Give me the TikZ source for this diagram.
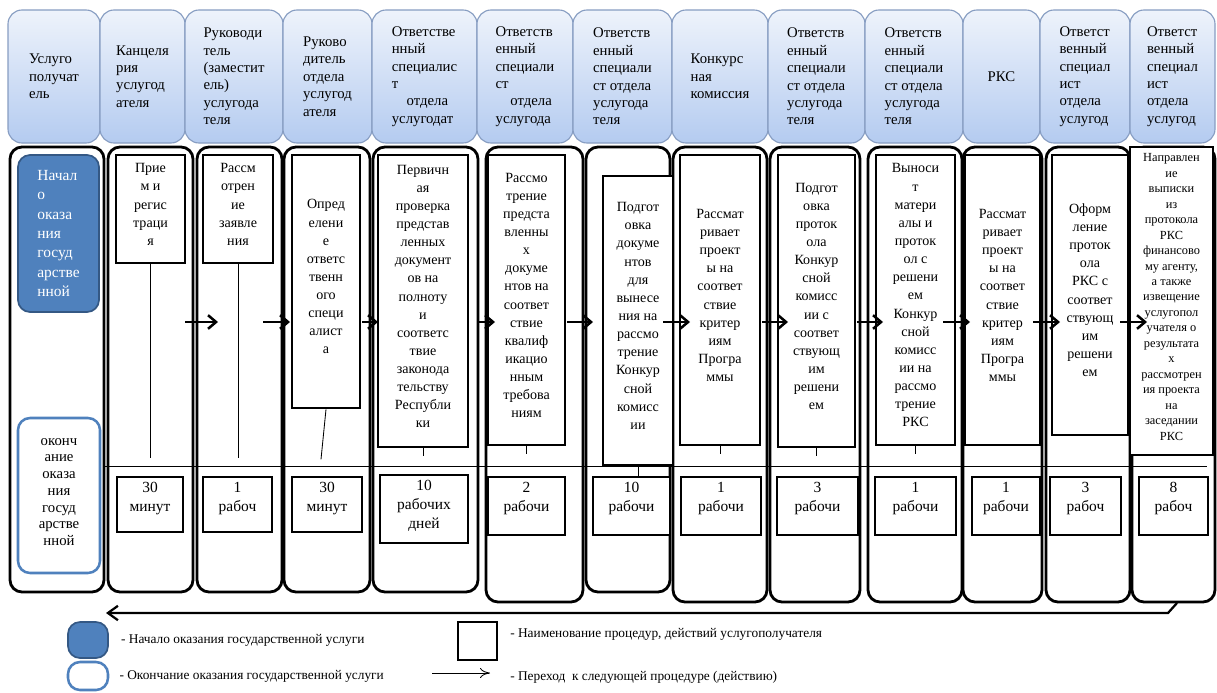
\documentclass[tikz,border=0pt]{standalone}
\usepackage{fontspec}
\setmainfont{Liberation Serif}
\definecolor{headtop}{RGB}{238,243,251}
\definecolor{headbot}{RGB}{180,203,240}
\definecolor{headline}{RGB}{135,157,194}
\definecolor{startblue}{RGB}{79,129,189}
\definecolor{startline}{RGB}{52,88,132}
\usetikzlibrary{arrows.meta,positioning,fit}

\begin{document}
\begin{tikzpicture}[x=0.025cm, y=-0.025cm,
    head/.style={rectangle, rounded corners=0.35cm, draw=headline, line width=0.8pt, top color=headtop, bottom color=headbot, inner sep=0pt},
    headtext/.style={align=left, inner sep=0pt, font=\fontsize{10.5}{12.4}\selectfont},
    lane/.style={rectangle, rounded corners=0.3cm, draw, line width=2pt, inner sep=0pt},
    proc/.style={rectangle, draw, line width=2pt, fill=white, inner sep=0pt, align=center, font=\fontsize{10}{12.9}\selectfont},
    tbox/.style={rectangle, draw, line width=2pt, fill=white, inner sep=0pt},
    tlabel/.style={align=center, inner sep=0pt, font=\fontsize{11}{13.5}\selectfont},
    startbox/.style={rectangle, rounded corners=0.3cm, draw=startline, line width=1.2pt, fill=startblue, inner sep=0pt},
    starttext/.style={align=left, inner sep=0pt, text=white, font=\fontsize{11}{13.8}\selectfont},
    endbox/.style={rectangle, rounded corners=0.3cm, draw=startblue, line width=1.8pt, fill=white, inner sep=0pt, align=center, font=\fontsize{10.5}{11.9}\selectfont},
    flow/.style={-{Straight Barb[length=2mm,width=3.4mm]}, line width=1.8pt},
    back/.style={-{Straight Barb[length=2.5mm,width=3.6mm]}, line width=1.6pt},
    stem/.style={line width=0.6pt},
    legtext/.style={anchor=west, inner sep=0pt, font=\fontsize{9.5}{11}\selectfont}
]
\useasboundingbox (0,0) rectangle (1217,692);

\node[head, fit={(8,10) (100,143)}] (h1) {};
\node[head, fit={(100,10) (185,143)}] (h2) {};
\node[head, fit={(185,10) (283,143)}] (h3) {};
\node[head, fit={(283,10) (372,143)}] (h4) {};
\node[head, fit={(372,10) (477,143)}] (h5) {};
\node[head, fit={(477,10) (573,143)}] (h6) {};
\node[head, fit={(573,10) (672,143)}] (h7) {};
\node[head, fit={(672,10) (768,143)}] (h8) {};
\node[head, fit={(768,10) (865,143)}] (h9) {};
\node[head, fit={(865,10) (963,143)}] (h10) {};
\node[head, fit={(963,10) (1040,143)}] (h11) {};
\node[head, fit={(1040,10) (1130,143)}] (h12) {};
\node[head, fit={(1130,10) (1215,143)}] (h13) {};

\node[headtext] (ht1) at (h1) {Услуго\\получат\\ель};
\node[headtext] (ht2) at (h2) {Канцеля\\рия\\услугод\\ателя};
\node[headtext] (ht3) at (h3) {Руководи\\тель\\(заместит\\ель)\\услугода\\теля};
\node[headtext] (ht4) at (h4) {Руково\\дитель\\отдела\\услугод\\ателя};
\node[headtext] (ht5) at (h5) {Ответстве\\нный\\специалис\\т\\\hspace*{1em}отдела\\услугодат};
\node[headtext] (ht6) at (h6) {Ответств\\енный\\специали\\ст\\\hspace*{1em}отдела\\услугода};
\node[headtext] (ht7) at (h7) {Ответств\\енный\\специали\\ст отдела\\услугода\\теля};
\node[headtext] (ht8) at (h8) {Конкурс\\ная\\комиссия};
\node[headtext] (ht9) at (h9) {Ответств\\енный\\специали\\ст отдела\\услугода\\теля};
\node[headtext] (ht10) at (h10) {Ответств\\енный\\специали\\ст отдела\\услугода\\теля};
\node[headtext] (ht11) at (h11) {РКС};
\node[headtext] (ht12) at (h12) {Ответст\\венный\\специал\\ист\\отдела\\услугод};
\node[headtext] (ht13) at (h13) {Ответст\\венный\\специал\\ист\\отдела\\услугод};

\node[lane, fit={(10,147) (104,592)}] (l1) {};
\node[lane, fit={(108,147) (193,592)}] (l2) {};
\node[lane, fit={(197,147) (282,592)}] (l3) {};
\node[lane, fit={(284,147) (370,592)}] (l4) {};
\node[lane, fit={(373,147) (478,592)}] (l5) {};
\node[lane, fit={(486,147) (583,602)}] (l6) {};
\node[lane, fit={(586,147) (670,592)}] (l7) {};
\node[lane, fit={(673,147) (767,602)}] (l8) {};
\node[lane, fit={(770,147) (860,602)}] (l9) {};
\node[lane, fit={(868,147) (962,602)}] (l10) {};
\node[lane, fit={(963,147) (1042,602)}] (l11) {};
\node[lane, fit={(1046,147) (1130,602)}] (l12) {};
\node[lane, fit={(1132,147) (1215,602)}] (l13) {};

\coordinate (sepL) at (104,466);
\coordinate (sepR) at (1207,466);
\draw[stem] (sepL) -- (sepR);

\node[startbox, fit={(18,155) (99,312)}] (s) {};
\node[starttext] (st) at (s) {Начал\\о\\оказа\\ния\\госуд\\арстве\\нной};
\node[endbox, fit={(18,418) (100,573)}] (e) {оконч\\ание\\оказа\\ния\\госуд\\арстве\\нной};

\node[proc, fit={(116,155) (185,263)}] (p2) {Прие\\м и\\регис\\траци\\я};
\node[proc, fit={(203,155) (273,263)}] (p3) {Рассм\\отрен\\ие\\заявле\\ния};
\node[proc, fit={(292,155) (360,408)}] (p4) {Опред\\елени\\е\\ответс\\твенн\\ого\\специ\\алист\\а};
\node[proc, fit={(378,155) (468,447)}] (p5) {Первичн\\ая\\проверка\\представ\\ленных\\документ\\ов на\\полноту\\и\\соответс\\твие\\законода\\тельству\\Республи\\ки};
\node[proc, fit={(488,155) (565,445)}] (p6) {Рассмо\\трение\\предста\\вленны\\х\\докуме\\нтов на\\соответ\\ствие\\квалиф\\икацио\\нным\\требова\\ниям};
\node[proc, fit={(603,176) (673,465)}] (p7) {Подгот\\овка\\докуме\\нтов\\для\\вынесе\\ния на\\рассмо\\трение\\Конкур\\сной\\комисс\\ии};
\node[proc, fit={(680,155) (760,445)}] (p8) {Рассмат\\ривает\\проект\\ы на\\соответ\\ствие\\критер\\иям\\Програ\\ммы};
\node[proc, fit={(778,155) (855,447)}] (p9) {Подгот\\овка\\проток\\ола\\Конкур\\сной\\комисс\\ии с\\соответ\\ствующ\\им\\решени\\ем};
\node[proc, fit={(876,155) (955,445)}] (p10) {Выноси\\т\\матери\\алы и\\проток\\ол с\\решени\\ем\\Конкур\\сной\\комисс\\ии на\\рассмо\\трение\\РКС};
\node[proc, fit={(965,155) (1040,445)}] (p11) {Рассмат\\ривает\\проект\\ы на\\соответ\\ствие\\критер\\иям\\Програ\\ммы};
\node[proc, fit={(1052,155) (1128,435)}] (p12) {Оформ\\ление\\проток\\ола\\РКС с\\соответ\\ствующ\\им\\решени\\ем};
\node[proc, font=\fontsize{8.8}{11}\selectfont, fit={(1130,147) (1213,455)}] (p13) {Направлен\\ие\\выписки\\из\\протокола\\РКС\\финансово\\му агенту,\\а также\\извещение\\услугопол\\учателя о\\результата\\х\\рассмотрен\\ия проекта\\на\\заседании\\РКС};

\node[tbox, fit={(117,477) (183,532)}] (t2) {};
\node[tbox, fit={(203,477) (272,532)}] (t3) {};
\node[tbox, fit={(292,477) (362,532)}] (t4) {};
\node[tbox, fit={(380,475) (468,543)}] (t5) {};
\node[tbox, fit={(488,477) (565,535)}] (t6) {};
\node[tbox, fit={(593,477) (670,535)}] (t7) {};
\node[tbox, fit={(681,477) (761,535)}] (t8) {};
\node[tbox, fit={(777,477) (858,535)}] (t9) {};
\node[tbox, fit={(875,477) (956,535)}] (t10) {};
\node[tbox, fit={(972,477) (1040,535)}] (t11) {};
\node[tbox, fit={(1050,477) (1121,535)}] (t12) {};
\node[tbox, fit={(1139,477) (1208,535)}] (t13) {};

\node[tlabel, below=0.15cm of t2.north] (tt2) {30\\минут};
\node[tlabel, below=0.15cm of t3.north] (tt3) {1\\рабоч};
\node[tlabel, below=0.15cm of t4.north] (tt4) {30\\минут};
\begin{scope}
  \clip (382,477) rectangle (466,534);
  \node[tlabel, below=0.15cm of t5.north] (tt5) {10\\рабочих\\дней};
\end{scope}
\node[tlabel, below=0.15cm of t6.north] (tt6) {2\\рабочи};
\node[tlabel, below=0.15cm of t7.north] (tt7) {10\\рабочи};
\node[tlabel, below=0.15cm of t8.north] (tt8) {1\\рабочи};
\node[tlabel, below=0.15cm of t9.north] (tt9) {3\\рабочи};
\node[tlabel, below=0.15cm of t10.north] (tt10) {1\\рабочи};
\node[tlabel, below=0.15cm of t11.north] (tt11) {1\\рабочи};
\node[tlabel, below=0.15cm of t12.north] (tt12) {3\\рабоч};
\node[tlabel, below=0.15cm of t13.north] (tt13) {8\\рабоч};

\draw[stem] (p2.south) -- ++(0,194);
\draw[stem] (p3.south) -- ++(0,194);
\draw[stem] (p4.south) -- ++(-5,50);
\draw[stem] (p5.south) -- ++(0,8);
\draw[stem] (p6.south) -- ++(0,8);
\draw[stem] (p7.south) -- (p7.south |- t7.north);
\draw[stem] (p8.south) -- ++(0,8);
\draw[stem] (p9.south) -- ++(0,8);
\draw[stem] (p10.south) -- ++(0,8);

\foreach \a/\b [count=\i] in {185/218, 263/290, 362/378, 477/495, 567/593, 663/690, 762/788, 857/883, 943/970, 1033/1060, 1120/1147} {
  \coordinate (a\i) at (\a,322);
  \coordinate (b\i) at (\b,322);
  \draw[flow] (a\i) -- (b\i);
}

\coordinate (r1) at (1177,603);
\coordinate (r2) at (1168,613);
\coordinate (r3) at (106,613);
\draw[back] (r1) -- (r2) -- (r3);

\node[startbox, fit={(68,622) (108,658)}] (k1) {};
\node[endbox, fit={(68,662) (108,690)}] (k2) {};
\node[tbox, fit={(458,622) (497,660)}] (k3) {};
\coordinate (ka) at (432,673);
\coordinate (kb) at (490,673);
\draw[-{To[length=2.5mm,width=2.5mm]}, line width=0.6pt] (ka) -- (kb);

\node[legtext, right=0.3cm of k1] (kt1) {- Начало оказания государственной услуги};
\node[legtext, right=0.25cm of k2] (kt2) {- Окончание оказания государственной услуги};
\node[legtext] (kt3) at (510,634) {- Наименование процедур, действий услугополучателя};
\node[legtext] (kt4) at (510,677) {- Переход~ к следующей процедуре (действию)};
\end{tikzpicture}
\end{document}
